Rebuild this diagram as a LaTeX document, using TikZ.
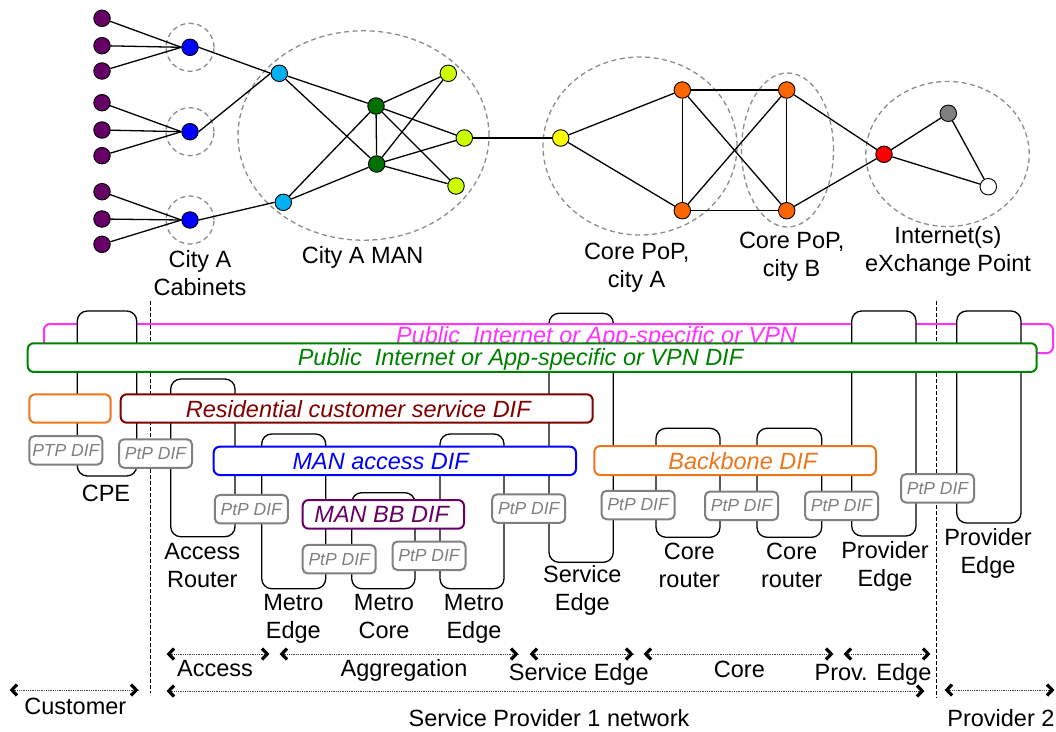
\documentclass[tikz,border=0pt]{standalone}
\usepackage{fontspec}
\setmainfont{Liberation Sans}
\usetikzlibrary{shapes.geometric}

% node fills of the access / metro / core network
\definecolor{cpepurple}{RGB}{102,0,102}
\definecolor{cabblue}{RGB}{0,0,255}
\definecolor{mancyan}{RGB}{0,176,240}
\definecolor{mangreen}{RGB}{0,112,0}
\definecolor{manlime}{RGB}{204,255,0}
\definecolor{seyellow}{RGB}{255,255,0}
\definecolor{coreorange}{RGB}{255,102,0}
\definecolor{ixpred}{RGB}{255,0,0}
\definecolor{ixpgray}{RGB}{128,128,128}
\definecolor{zonegray}{RGB}{140,140,140}
% DIF colours
\definecolor{difmagenta}{RGB}{255,51,255}
\definecolor{difgreen}{RGB}{0,128,0}
\definecolor{difred}{RGB}{128,0,0}
\definecolor{difblue}{RGB}{0,0,255}
\definecolor{diforange}{RGB}{237,118,29}
\definecolor{difpurple}{RGB}{102,0,102}
\definecolor{ptpgray}{RGB}{128,128,128}

\begin{document}
\begin{tikzpicture}[x=1pt,y=-1pt,
  every node/.style={font=\fontsize{23.5}{28}\selectfont},
  host/.style={circle,draw=black,line width=0.9pt,minimum size=16.5pt,inner sep=0pt},
  link/.style={line width=1.3pt},
  zone/.style={draw=zonegray,dash pattern=on 5pt off 3.5pt,line width=1.3pt,inner sep=0pt},
  zoneell/.style={zone,ellipse},
  devbox/.style={draw=black,fill=white,line width=1.3pt,rounded corners=10pt,inner sep=0pt},
  difbox/.style={fill=white,line width=2pt,rounded corners=6pt,inner sep=0pt},
  diflabel/.style={anchor=base,font=\fontsize{23.5}{28}\selectfont\itshape},
  ptp/.style={draw=ptpgray,fill=white,line width=2pt,rounded corners=5pt,inner sep=0pt,
    minimum width=73pt,minimum height=28.5pt,text=ptpgray,
    font=\fontsize{17.5}{20}\selectfont\itshape},
  lbl/.style={align=center,inner sep=0pt},
  blbl/.style={anchor=base,inner sep=0pt},
  sep/.style={draw=black,line width=1pt,dash pattern=on 4pt off 2pt},
  span/.style={draw=black!75,line width=0.8pt,dash pattern=on 0.9pt off 0.9pt},
  chevstroke/.style={draw=black,line width=3.2pt,line join=miter,line cap=butt},
  chevleft/.pic={\draw[chevstroke] (7,-5.5) -- (1.8,0) -- (7,5.5);},
  chevright/.pic={\draw[chevstroke] (-7,-5.5) -- (-1.8,0) -- (-7,5.5);}
]
\useasboundingbox (0,0) rectangle (1056,731);

% ---------------- network view ----------------
\node[host,fill=cpepurple] (h1) at (102,18.3) {};
\node[host,fill=cpepurple] (h2) at (102,45.7) {};
\node[host,fill=cpepurple] (h3) at (102,71) {};
\node[host,fill=cpepurple] (h4) at (102,102.7) {};
\node[host,fill=cpepurple] (h5) at (102,130) {};
\node[host,fill=cpepurple] (h6) at (102,155.7) {};
\node[host,fill=cpepurple] (h7) at (102,191.7) {};
\node[host,fill=cpepurple] (h8) at (102,219) {};
\node[host,fill=cpepurple] (h9) at (102,244.3) {};

\node[host,fill=cabblue] (b1) at (190,47.3) {};
\node[host,fill=cabblue] (b2) at (190,131.7) {};
\node[host,fill=cabblue] (b3) at (190,220) {};
\node[zone,circle,minimum size=48pt] (cab1) at (190,47.3) {};
\node[zone,circle,minimum size=48pt] (cab2) at (190,131.7) {};
\node[zone,circle,minimum size=48pt] (cab3) at (190,220) {};

\node[host,fill=mancyan] (m1) at (279.3,73.3) {};
\node[host,fill=mancyan] (m2) at (283.3,202.3) {};
\node[host,fill=mangreen] (g1) at (376,106) {};
\node[host,fill=mangreen] (g2) at (376.7,164) {};
\node[host,fill=manlime] (l1) at (448.3,73.3) {};
\node[host,fill=manlime] (l2) at (464.3,138) {};
\node[host,fill=manlime] (l3) at (456,186) {};
\node[zoneell,minimum width=251pt,minimum height=209.4pt] (man) at (363.5,135.5) {};

\node[host,fill=seyellow] (y1) at (560.7,138) {};
\node[host,fill=coreorange] (o1) at (682.3,90) {};
\node[host,fill=coreorange] (o2) at (786.7,90) {};
\node[host,fill=coreorange] (o3) at (682.3,210.7) {};
\node[host,fill=coreorange] (o4) at (786.7,210.7) {};
\node[zoneell,minimum width=194pt,minimum height=178pt] (popA) at (640,146) {};
\node[zoneell,minimum width=92pt,minimum height=154pt] (popB) at (787.5,150) {};

\node[host,fill=ixpred] (x1) at (884,154.3) {};
\node[host,fill=ixpgray] (x2) at (948.3,113.3) {};
\node[host,fill=white] (x3) at (988.3,186.7) {};
\node[zoneell,minimum width=163.4pt,minimum height=145pt] (ixp) at (947.5,154) {};

\foreach \h in {h1,h2,h3} \draw[link] (\h) -- (b1.west);
\foreach \h in {h4,h5,h6} \draw[link] (\h) -- (b2.west);
\foreach \h in {h7,h8,h9} \draw[link] (\h) -- (b3.west);
\draw[link] (b1.east) -- (m1.west);
\draw[link] (b2.east) -- (m1.west);
\draw[link] (b3.east) -- (m2.west);
\draw[link] (m1) -- (g1);
\draw[link] (m1) -- (g2);
\draw[link] (m2) -- (g1);
\draw[link] (m2) -- (g2);
\draw[link] (g1) -- (g2);
\foreach \l in {l1,l2,l3} {
  \draw[link] (g1) -- (\l);
  \draw[link] (g2) -- (\l);
}
\draw[link] (l2) -- (y1);
\draw[link] (y1) -- (o1);
\draw[link] (y1) -- (o3);
\draw[link] (o1) -- (o2);
\draw[link] (o1) -- (o3);
\draw[link] (o1) -- (o4);
\draw[link] (o2) -- (o3);
\draw[link] (o2) -- (o4);
\draw[link] (o3) -- (o4);
\draw[link] (o2) -- (x1);
\draw[link] (o4) -- (x1);
\draw[link] (x1) -- (x2);
\draw[link] (x1) -- (x3);
\draw[link] (x2) -- (x3);

\node[lbl] (tcab) at (200,273) {City A\\Cabinets};
\node[blbl] (tman) at (362.7,263) {City A MAN};
\node[lbl] (tpopA) at (636.7,268.1) {Core PoP,\\city A};
\node[lbl] (tpopB) at (791.7,256.4) {Core PoP,\\city B};
\node[lbl] (tixp) at (948,251.4) {Internet(s)\\eXchange Point};

% ---------------- layered DIF view ----------------
\node[devbox,minimum width=64.3pt,minimum height=249pt] (se) at (581.15,437.8) {};

\node[difbox,draw=difmagenta,minimum width=1009pt,minimum height=29pt] (dmag) at (548.5,338.5) {};
\node[diflabel,text=difmagenta] (tdmag) at (596.5,343.5) {Public~~Internet or App-specific or VPN};

\node[devbox,minimum width=59.4pt,minimum height=165pt] (cpe) at (107,393.5) {};
\node[devbox,minimum width=64.3pt,minimum height=225pt] (pe1) at (883.85,423.5) {};
\node[devbox,minimum width=64.3pt,minimum height=212pt] (pe2) at (988.85,417) {};

% ownership boundaries (behind the DIF boxes)
\coordinate (sepLtop) at (150,301);
\coordinate (sepLbot) at (150,693);
\coordinate (sepRtop) at (936.7,301);
\coordinate (sepRbot) at (936.7,698);
\draw[sep] (sepLtop) -- (sepLbot);
\draw[sep] (sepRtop) -- (sepRbot);

\node[difbox,draw=difgreen,minimum width=1009pt,minimum height=28.7pt] (dgreen) at (532.2,357.6) {};
\node[diflabel,text=difgreen] (tdgreen) at (520.5,365) {Public~~Internet or App-specific or VPN DIF};

\node[devbox,minimum width=64.3pt,minimum height=157.7pt] (ar) at (202.85,457.85) {};
\node[devbox,minimum width=64pt,minimum height=154.7pt] (me1) at (293.7,511.35) {};
\node[devbox,minimum width=63.3pt,minimum height=96pt] (mc) at (383.35,540.7) {};
\node[devbox,minimum width=64pt,minimum height=154.7pt] (me2) at (472,511.35) {};
\node[devbox,minimum width=64pt,minimum height=109pt] (cr1) at (688,482.8) {};
\node[devbox,minimum width=64.7pt,minimum height=109pt] (cr2) at (789.35,482.8) {};

\node[difbox,draw=diforange,minimum width=81.4pt,minimum height=28.4pt] (dcust) at (70,408.5) {};
\node[difbox,draw=difred,minimum width=472pt,minimum height=28.4pt] (dres) at (356.7,408.5) {};
\node[diflabel,text=difred] (tdres) at (358.3,417) {Residential customer service DIF};
\node[difbox,draw=difblue,minimum width=362.3pt,minimum height=28.3pt] (dacc) at (394.85,460.85) {};
\node[diflabel,text=difblue] (tdacc) at (380.7,469) {MAN access DIF};
\node[difbox,draw=diforange,minimum width=281.7pt,minimum height=29pt] (dbb) at (735.15,460.5) {};
\node[diflabel,text=diforange] (tdbb) at (742.8,469) {Backbone DIF};
\node[difbox,draw=difpurple,minimum width=161.3pt,minimum height=28.7pt] (dmbb) at (383.35,514.35) {};
\node[diflabel,text=difpurple] (tdmbb) at (381.7,522.5) {MAN BB DIF};

\node[ptp] (p1) at (65.8,450.3) {PTP DIF};
\node[ptp] (p2) at (155.5,453.5) {PtP DIF};
\node[ptp] (p3) at (251.3,509.2) {PtP DIF};
\node[ptp] (p4) at (339.2,559.2) {PtP DIF};
\node[ptp] (p5) at (429,555.8) {PtP DIF};
\node[ptp] (p6) at (528.7,508.5) {PtP DIF};
\node[ptp] (p7) at (638.1,505) {PtP DIF};
\node[ptp] (p8) at (741.5,505.8) {PtP DIF};
\node[ptp] (p9) at (841.5,505.8) {PtP DIF};
\node[ptp] (p10) at (937.5,488.3) {PtP DIF};

% device names
\node[blbl] (tcpe) at (106,501) {CPE};
\node[lbl] (tar) at (202.3,565.7) {Access\\Router};
\node[lbl] (tme1) at (293.3,619.1) {Metro\\Edge};
\node[lbl] (tmc) at (384,616.7) {Metro\\Core};
\node[lbl] (tme2) at (474,619.1) {Metro\\Edge};
\node[lbl] (tse) at (582.3,590.7) {Service\\Edge};
\node[lbl] (tcr1) at (689.3,565.4) {Core\\router};
\node[lbl] (tcr2) at (791.7,565.4) {Core\\router};
\node[lbl] (tpe1) at (885,566.4) {Provider\\Edge};
\node[lbl] (tpe2) at (988,553.4) {Provider\\Edge};

% ---------------- network segments ----------------
\coordinate (cu1) at (10,690);   \coordinate (cu2) at (138,690);
\coordinate (ac1) at (167,654);  \coordinate (ac2) at (269,654);
\coordinate (ag1) at (280,654);  \coordinate (ag2) at (518,654);
\coordinate (sg1) at (530,654);  \coordinate (sg2) at (633,654);
\coordinate (co1) at (644,654);  \coordinate (co2) at (833,654);
\coordinate (pv1) at (844,654);  \coordinate (pv2) at (930,654);
\coordinate (sp1) at (167,691);  \coordinate (sp2) at (924,691);
\coordinate (pr1) at (945,690);  \coordinate (pr2) at (1054,690);
\foreach \a/\b in {cu1/cu2,ac1/ac2,ag1/ag2,sg1/sg2,co1/co2,pv1/pv2,sp1/sp2,pr1/pr2} {
  \draw[span] (\a) -- (\b);
  \pic at (\a) {chevleft};
  \pic at (\b) {chevright};
}

\node[blbl] (tacc) at (215,676) {Access};
\node[blbl] (tagg) at (404,676) {Aggregation};
\node[blbl] (tsvc) at (578.8,680) {Service Edge};
\node[blbl] (tcore) at (739.4,677) {Core};
\node[blbl] (tprov) at (873,680) {Prov. Edge};
\node[blbl] (tcust) at (75.3,714) {Customer};
\node[blbl] (tsp1) at (549,726) {Service Provider 1 network};
\node[blbl] (tsp2) at (1000.9,726) {Provider 2};
\end{tikzpicture}
\end{document}
